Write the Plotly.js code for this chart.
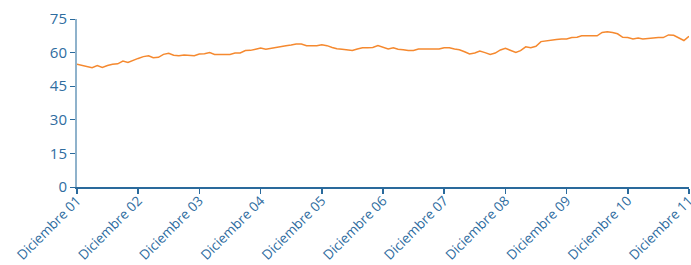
<!DOCTYPE html>
<html>
<head>
<meta charset="utf-8">
<script src="https://cdn.plot.ly/plotly-3.0.1.min.js"></script>
<style>html,body{margin:0;padding:0;background:#fff}#chart{width:691px;height:265px}</style>
</head>
<body>
<div id="chart"></div>
<script>
// Monthly values, December 2001 to December 2011
const startYear = 2001;
const values = [
 54.8,54.3,53.9,53.3,54.2,53.4,54.2,54.8,55.0,56.2,55.6,56.6,
 57.4,58.2,58.6,57.7,57.9,59.2,59.7,58.8,58.6,58.9,58.6,58.6,
 59.4,59.5,60.0,59.2,59.2,59.2,59.2,59.8,59.8,60.9,61.0,61.5,
 62.0,61.5,62.0,62.2,62.8,63.1,63.4,63.8,63.8,63.1,63.1,63.1,
 63.5,63.1,62.3,61.7,61.5,61.3,60.9,61.6,62.2,62.2,62.3,63.1,
 62.2,61.6,62.2,61.5,61.3,60.9,60.9,61.6,61.6,61.6,61.6,61.6,
 62.2,62.2,61.6,61.3,60.4,59.4,59.8,60.7,60.0,59.2,59.8,61.2,
 61.9,60.9,60.1,60.9,62.6,62.2,62.8,64.9,65.3,65.6,65.8,66.1,
 66.1,66.7,66.9,67.5,67.5,67.5,67.5,69.0,69.3,69.0,68.4,66.8,
 66.7,66.1,66.5,66.1,66.4,66.7,66.7,66.7,67.9,67.7,66.5,65.4,
 67.3
];
const tickYears = [2001,2002,2003,2004,2005,2006,2007,2008,2009,2010,2011];
const tickLabels = ["Diciembre 01","Diciembre 02","Diciembre 03","Diciembre 04","Diciembre 05","Diciembre 06","Diciembre 07","Diciembre 08","Diciembre 09","Diciembre 10","Diciembre 11"];
const yTicks = [0,15,30,45,60,75];

function monthDate(i){
  const total = (startYear*12 + 11) + i;
  const y = Math.floor(total/12), m = total%12 + 1;
  return y + "-" + String(m).padStart(2,"0") + "-01";
}
const dates = values.map((v,i)=>monthDate(i));
const tickVals = tickYears.map(y => y + "-12-01");

const txt = "#2f6d9f";
Plotly.newPlot("chart", [{
  x: dates, y: values, type: "scatter", mode: "lines",
  line: {color: "#f5892f", width: 1.5}, hoverinfo: "skip"
}], {
  width: 691, height: 265,
  margin: {l: 77, r: 2, t: 19, b: 78},
  paper_bgcolor: "#fff", plot_bgcolor: "#fff",
  font: {family: "Open Sans, sans-serif", color: txt},
  showlegend: false,
  xaxis: {
    type: "date", range: [tickVals[0], "2011-12-01 10:00"],
    tickmode: "array", tickvals: tickVals, ticktext: tickLabels,
    tickangle: -45, tickfont: {size: 13.5, color: txt},
    ticklabeloverflow: "allow", ticklabelstandoff: -6,
    showgrid: false, zeroline: false, showline: true, linecolor: "#2a6a9c", linewidth: 1.5,
    ticks: "outside", ticklen: 5, tickcolor: "#2a6a9c", tickwidth: 1.5
  },
  yaxis: {
    range: [0, 75], tickmode: "array", tickvals: yTicks,
    tickfont: {size: 15, color: txt},
    showgrid: false, zeroline: false, showline: true, linecolor: "#8fb2cb", linewidth: 2,
    ticks: "outside", ticklen: 5, tickcolor: "#2a6a9c", tickwidth: 1
  }
}, {staticPlot: true, displayModeBar: false});
</script>
</body>
</html>
